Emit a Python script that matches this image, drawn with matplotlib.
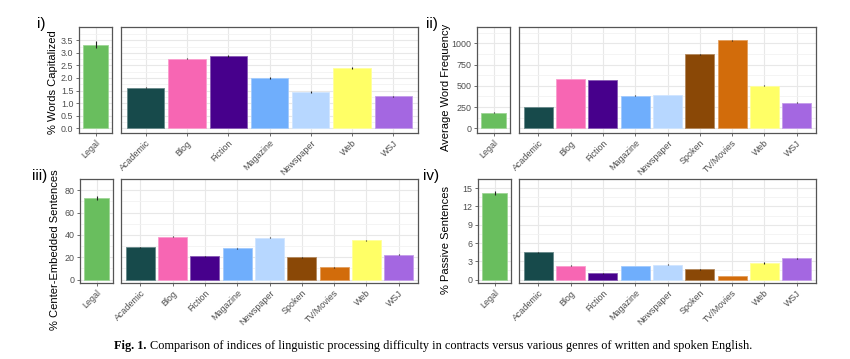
import matplotlib
matplotlib.use('Agg')
import matplotlib.pyplot as plt
import matplotlib.colors as mcolors
import numpy as np

plt.rcParams['font.family'] = ['Liberation Sans', 'DejaVu Sans']

# 数据
genres_i = ['Academic', 'Blog', 'Fiction', 'Magazine', 'Newspaper', 'Web', 'WSJ']
genres = ['Academic', 'Blog', 'Fiction', 'Magazine', 'Newspaper', 'Spoken', 'TV/Movies', 'Web', 'WSJ']

cap_legal, cap_legal_err = 3.32, 0.14
cap_vals = [1.62, 2.77, 2.88, 1.99, 1.44, 2.40, 1.27]
cap_err = [0.03, 0.03, 0.03, 0.04, 0.03, 0.04, 0.02]

freq_legal, freq_legal_err = 181, 6
freq_vals = [251, 580, 568, 384, 392, 872, 1037, 502, 302]
freq_err = [3, 4, 3, 4, 4, 5, 6, 5, 4]

ce_legal, ce_legal_err = 72.8, 1.6
ce_vals = [29.1, 38.5, 21.0, 28.0, 37.4, 20.2, 11.1, 35.2, 22.4]
ce_err = [0.5, 0.5, 0.4, 0.5, 0.5, 0.4, 0.4, 0.5, 0.4]

pas_legal, pas_legal_err = 14.17, 0.35
pas_vals = [4.48, 2.24, 1.04, 2.24, 2.45, 1.67, 0.63, 2.71, 3.49]
pas_err = [0.12, 0.08, 0.05, 0.07, 0.07, 0.06, 0.04, 0.1, 0.08]

genre_colors = {
    'Legal': '#69BE5E', 'Academic': '#174A4B', 'Blog': '#F766B3', 'Fiction': '#47008C',
    'Magazine': '#6FAEFC', 'Newspaper': '#B7D7FF', 'Spoken': '#8A4806',
    'TV/Movies': '#D26C0B', 'Web': '#FFFF66', 'WSJ': '#A467E1',
}

W, H = 850, 359
fig = plt.figure(figsize=(W / 100, H / 100), dpi=100)
fig.patch.set_facecolor('white')


def px_axes(x0, x1, y0, y1):
    return fig.add_axes([x0 / W, 1 - y1 / H, (x1 - x0) / W, (y1 - y0) / H])


def lighter(c, f=0.35):
    r, g, b = mcolors.to_rgb(c)
    return (r + (1 - r) * f, g + (1 - g) * f, b + (1 - b) * f)


def style_ax(ax, ylim, yticks, show_y):
    ax.set_facecolor('white')
    ax.set_ylim(*ylim)
    ax.set_yticks(yticks)
    minor = [(a + b) / 2 for a, b in zip(yticks[:-1], yticks[1:])]
    step = yticks[1] - yticks[0]
    minor.append(yticks[-1] + step / 2)
    ax.set_yticks(minor, minor=True)
    ax.grid(True, which='major', color='#E8E8E8', linewidth=0.8, zorder=0)
    ax.grid(True, which='minor', axis='y', color='#F2F2F2', linewidth=0.6, zorder=0)
    ax.set_axisbelow(True)
    for s in ax.spines.values():
        s.set_color('#555555')
        s.set_linewidth(0.9)
    ax.tick_params(axis='both', which='major', labelsize=6.4, labelcolor='#4D4D4D',
                   color='#555555', length=2.5, width=0.6, pad=1.5)
    ax.tick_params(axis='y', which='minor', length=0)
    if not show_y:
        ax.tick_params(axis='y', which='both', length=0, labelleft=False)


def draw_bars(ax, names, vals, errs):
    x = np.arange(len(names))
    cols = [genre_colors[n] for n in names]
    ax.bar(x, vals, width=0.9, color=cols, edgecolor=[lighter(c) for c in cols],
           linewidth=0.6, zorder=2)
    ax.errorbar(x, vals, yerr=errs, fmt='none', ecolor='#222222', elinewidth=0.8,
                capsize=0, zorder=3)
    ax.set_xlim(-0.6, len(names) - 0.4)
    ax.set_xticks(x)
    ax.set_xticklabels(names, rotation=45, ha='right', rotation_mode='anchor')


panels = [
    # (legal x, main x, y range, legal value, main data, ylim, yticks, fmt, label, tag, tag pos, ylabel pos)
    ((79, 112), (121, 418), (27, 133), (cap_legal, cap_legal_err), (genres_i, cap_vals, cap_err),
     (-0.19, 4.03), [0, 0.5, 1.0, 1.5, 2.0, 2.5, 3.0, 3.5], '{:.1f}',
     '% Words Capitalized', 'i)', (37, 24), (53, 82)),
    ((477, 510), (519, 816), (27, 133), (freq_legal, freq_legal_err), (genres, freq_vals, freq_err),
     (-55, 1192), [0, 250, 500, 750, 1000], '{:.0f}',
     'Average Word Frequency', 'ii)', (426, 24), (446, 87)),
    ((80, 113), (121, 418), (179, 283), (ce_legal, ce_legal_err), (genres, ce_vals, ce_err),
     (-3.0, 83.6), [0, 20, 40, 60, 80], '{:.0f}',
     '% Center-Embedded Sentences', 'iii)', (32, 176), (55, 250)),
    ((478, 511), (519, 816), (179, 283), (pas_legal, pas_legal_err), (genres, pas_vals, pas_err),
     (-0.56, 15.7), [0, 3, 6, 9, 12, 15], '{:.0f}',
     '% Passive Sentences', 'iv)', (423, 176), (446, 240)),
]

for lx, mx, yr, legal, main, ylim, yticks, fmt, ylab, tag, tagpos, ylabpos in panels:
    ax_l = px_axes(lx[0], lx[1], yr[0], yr[1])
    style_ax(ax_l, ylim, yticks, True)
    draw_bars(ax_l, ['Legal'], [legal[0]], [legal[1]])
    ax_l.set_yticklabels([fmt.format(t) for t in yticks])

    ax_m = px_axes(mx[0], mx[1], yr[0], yr[1])
    style_ax(ax_m, ylim, yticks, False)
    draw_bars(ax_m, main[0], main[1], main[2])

    fig.text(tagpos[0] / W, 1 - tagpos[1] / H, tag, fontsize=11, ha='left', va='center')
    fig.text(ylabpos[0] / W, 1 - ylabpos[1] / H, ylab, fontsize=8.0, rotation=90,
             ha='center', va='center')

# 图注
fig.text(146 / W, 1 - 346 / H, 'Fig. 1.', fontsize=8.8, family='Liberation Serif',
         weight='bold', ha='right', va='center')
fig.text(150 / W, 1 - 346 / H,
         'Comparison of indices of linguistic processing difficulty in contracts '
         'versus various genres of written and spoken English.',
         fontsize=8.8, family='Liberation Serif', ha='left', va='center')

fig.savefig('out.png', dpi=100, facecolor='white')
